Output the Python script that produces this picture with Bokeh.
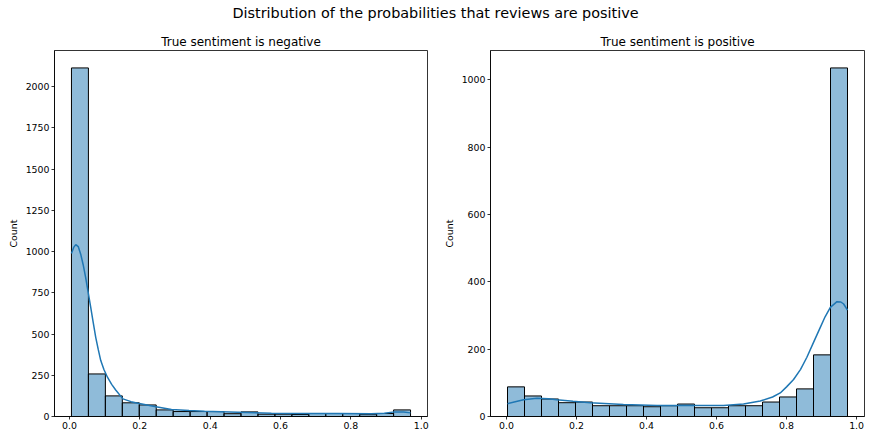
import numpy as np
from bokeh.plotting import figure
from bokeh.models import ColumnDataSource, Div, FixedTicker, PrintfTickFormatter, Range1d
from bokeh.layouts import column, row
from bokeh.embed import file_html
from bokeh.resources import INLINE

# histogram bins (min / max of the predicted probabilities, 20 bins)
neg_min, neg_max = 0.0057, 0.9697
pos_min, pos_max = 0.0030, 0.9740
n_bins = 20

# counts per bin
neg_counts = [2113, 258, 125, 83, 70, 40, 30, 30, 30, 17,
              28, 14, 14, 12, 18, 18, 18, 11, 18, 40]
pos_counts = [88, 61, 52, 41, 43, 32, 32, 32, 29, 32,
              37, 26, 26, 32, 32, 43, 58, 82, 183, 1035]

# kde curves (scaled to counts)
neg_kde_x = [0.0057, 0.012, 0.018, 0.025, 0.032, 0.039, 0.046, 0.053, 0.0605, 0.0675,
             0.0747, 0.082, 0.089, 0.098, 0.108, 0.12, 0.1315, 0.152, 0.175, 0.195,
             0.242, 0.29, 0.34, 0.384, 0.479, 0.574, 0.668, 0.763, 0.858, 0.895,
             0.924, 0.95, 0.9697]
neg_kde_y = [988, 1025, 1042, 1030, 984, 920, 843, 755, 661, 570,
             480, 405, 339, 285, 238, 195, 161, 107, 90, 80,
             60, 42, 36, 32, 26, 20, 18, 18, 16, 20,
             28, 27, 22]

pos_kde_x = [0.003, 0.025, 0.049, 0.087, 0.12, 0.144, 0.19, 0.239, 0.334, 0.43,
             0.525, 0.62, 0.677, 0.725, 0.76, 0.782, 0.80, 0.82, 0.84, 0.858,
             0.877, 0.896, 0.91, 0.925, 0.944, 0.955, 0.963, 0.974]
pos_kde_y = [38, 44, 50, 54, 53, 50, 45, 41, 35.5, 33,
             33, 33, 37, 46, 58, 70, 88, 110, 140, 176,
             220, 264, 296, 324, 341, 340, 334, 316]

neg_yticks = [0, 250, 500, 750, 1000, 1250, 1500, 1750, 2000]
pos_yticks = [0, 200, 400, 600, 800, 1000]
xticks = [0.0, 0.2, 0.4, 0.6, 0.8, 1.0]

BAR = "#1f77b4"
FONT = "DejaVu Sans"
TICK_SIZE = "9.4px"


def panel(title, lo, hi, counts, kx, ky, yticks, width, bl, br):
    edges = np.linspace(lo, hi, n_bins + 1)
    src = ColumnDataSource(dict(left=edges[:-1], right=edges[1:], top=counts,
                                bottom=[0] * len(counts)))
    xpad = (hi - lo) * 0.05
    ytop = max(counts) * 1.05
    p = figure(width=width, height=409, output_backend="svg", toolbar_location=None,
               x_range=Range1d(lo - xpad, hi + xpad), y_range=Range1d(0, ytop),
               min_border_left=bl, min_border_right=br, min_border_top=19,
               min_border_bottom=23, title=title)
    p.quad(left="left", right="right", top="top", bottom="bottom", source=src,
           fill_color=BAR, fill_alpha=0.5, line_color="black", line_width=1)
    p.line(kx, ky, line_color=BAR, line_width=1.5)

    p.title.align = "center"
    p.title.text_font = FONT
    p.title.text_font_size = "12px"
    p.title.text_font_style = "normal"
    p.title.text_color = "black"
    p.title.standoff = 4

    p.xgrid.visible = False
    p.ygrid.visible = False
    p.outline_line_color = "black"
    p.outline_line_width = 0.8
    p.outline_line_alpha = 1

    p.xaxis.ticker = FixedTicker(ticks=xticks)
    p.xaxis.formatter = PrintfTickFormatter(format="%.1f")
    p.yaxis.ticker = FixedTicker(ticks=yticks)
    p.yaxis.axis_label = "Count"
    p.yaxis.axis_label_text_font = FONT
    p.yaxis.axis_label_text_font_size = TICK_SIZE
    p.yaxis.axis_label_text_font_style = "normal"
    p.yaxis.axis_label_text_color = "black"
    p.yaxis.axis_label_standoff = 4
    for ax in (p.xaxis, p.yaxis):
        ax.major_label_text_font = FONT
        ax.major_label_text_font_size = TICK_SIZE
        ax.major_label_text_color = "black"
        ax.major_tick_in = 0
        ax.major_tick_out = 3
        ax.minor_tick_in = 0
        ax.minor_tick_out = 0
        ax.axis_line_color = "black"
        ax.axis_line_width = 0.8
        ax.major_tick_line_width = 0.8
        ax.major_label_standoff = 2
    return p


p1 = panel("True sentiment is negative", neg_min, neg_max, neg_counts,
           neg_kde_x, neg_kde_y, neg_yticks, 440, 54, 13)
p2 = panel("True sentiment is positive", pos_min, pos_max, pos_counts,
           pos_kde_x, pos_kde_y, pos_yticks, 431, 50, 7)

title = Div(text='<div style="display:block;width:871px;text-align:center;'
                 'font-family:\'DejaVu Sans\';font-size:14.4px;color:black;'
                 'line-height:16px;padding-top:5px;">'
                 'Distribution of the probabilities that reviews are positive</div>',
            width=871, height=30, margin=(0, 0, 0, 0))

lay = column(title, row(p1, p2))
open("out.html", "w").write(file_html(lay, INLINE))
